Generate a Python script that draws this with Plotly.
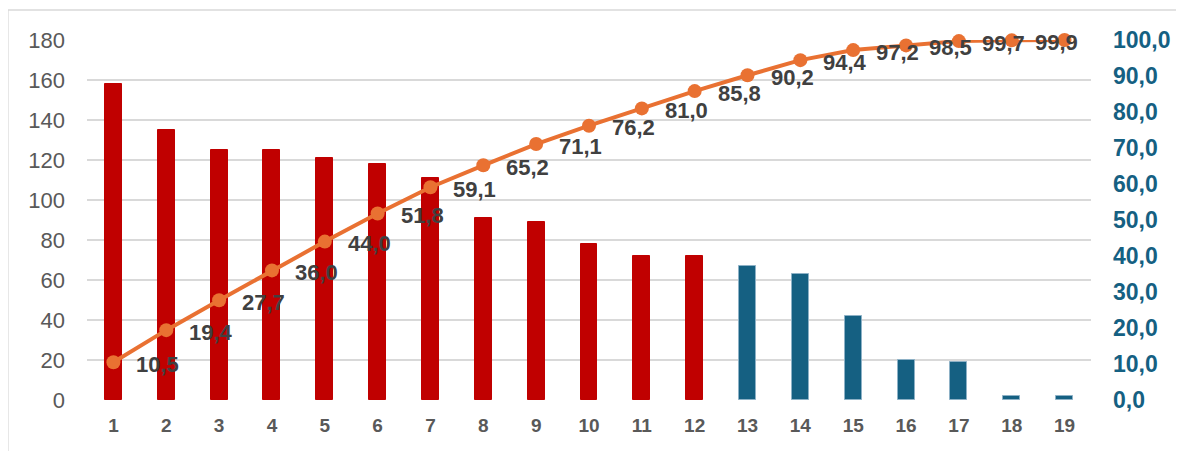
import plotly.graph_objects as go

categories = list(range(1, 20))
counts = [158, 135, 125, 125, 121, 118, 111, 91, 89, 78, 72, 72, 67, 63, 42, 20, 19, 2, 2]
cumulative_pct = [10.5, 19.4, 27.7, 36.0, 44.0, 51.8, 59.1, 65.2, 71.1, 76.2,
                  81.0, 85.8, 90.2, 94.4, 97.2, 98.5, 99.7, 99.9, 100.0]
point_labels = ["10,5", "19,4", "27,7", "36,0", "44,0", "51,8", "59,1", "65,2", "71,1", "76,2",
                "81,0", "85,8", "90,2", "94,4", "97,2", "98,5", "99,7", "99,9", ""]
vital_few = 12  # first 12 categories highlighted

RED = "#C00000"
BLUE = "#156082"
ORANGE = "#E97132"
FONT = "Liberation Sans, Arial, sans-serif"
bar_colors = [RED if i < vital_few else BLUE for i in range(len(categories))]
bar_edges = [RED if i < vital_few else "#8db1c6" for i in range(len(categories))]

fig = go.Figure()
fig.add_trace(go.Bar(
    x=categories, y=counts, width=0.32,
    marker=dict(color=bar_colors, line=dict(color=bar_edges, width=1)),
    hoverinfo="skip", showlegend=False,
))
fig.add_trace(go.Scatter(
    x=categories, y=cumulative_pct, yaxis="y2", mode="lines+markers",
    line=dict(color=ORANGE, width=4),
    marker=dict(color=ORANGE, size=14),
    hoverinfo="skip", showlegend=False, cliponaxis=False,
))

for xv, yv, txt in zip(categories, cumulative_pct, point_labels):
    if txt:
        fig.add_annotation(
            x=xv, y=yv, xref="x", yref="y2", text="<b>%s</b>" % txt,
            showarrow=False, xanchor="left", yanchor="middle",
            xshift=21, yshift=-2,
            font=dict(family=FONT, size=22, color="#404040"),
        )

# Chart-area border (left and top edges visible)
fig.add_shape(type="rect", xref="paper", yref="paper",
              x0=-0.0788, x1=1.5, y0=-0.5, y1=1.0833,
              line=dict(color="#d9d9d9", width=1.5), fillcolor="rgba(0,0,0,0)", layer="below")

fig.update_layout(
    width=1184, height=451,
    margin=dict(l=79, r=101, t=32, b=59),
    paper_bgcolor="white", plot_bgcolor="white",
    separators=",.",
    bargap=0,
    xaxis=dict(
        range=[0.5, 19.5], tickmode="array", tickvals=categories,
        ticktext=["<b>%d</b>" % c for c in categories],
        showgrid=False, zeroline=False, showline=False, ticks="",
        tickfont=dict(family=FONT, size=19, color="#595959"),
        ticklabelstandoff=12,
    ),
    yaxis=dict(
        range=[0, 180], dtick=20, tick0=0,
        showgrid=True, gridcolor="#d9d9d9", gridwidth=1.5,
        zeroline=False, showline=False, ticks="",
        tickfont=dict(family=FONT, size=22, color="#595959"),
        ticklabelstandoff=21,
    ),
    yaxis2=dict(
        range=[0, 100], dtick=10, tick0=0, overlaying="y", side="right",
        tickformat=".1f", showgrid=False, zeroline=False, showline=False, ticks="",
        tickfont=dict(family=FONT, size=23, color=BLUE, weight="bold"),
        ticklabelstandoff=21,
    ),
)

fig.write_html("out.html")
